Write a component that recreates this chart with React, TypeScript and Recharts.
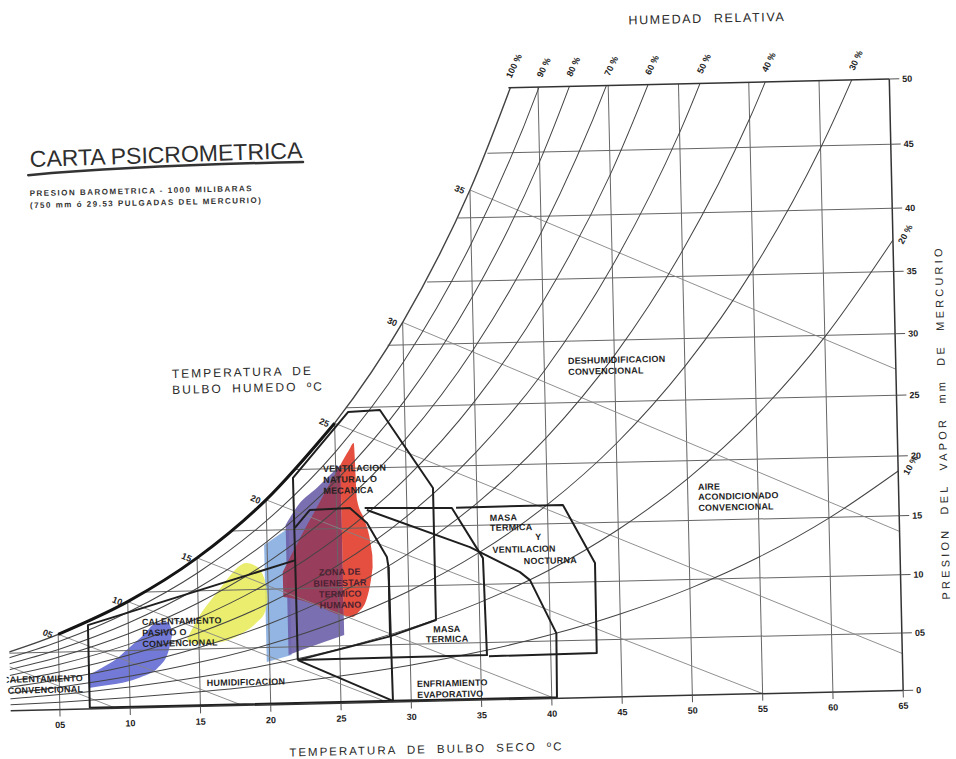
import React from "react";
import { Area, ComposedChart, Line, ReferenceDot, ReferenceLine, XAxis, YAxis } from "recharts";

// vertical axis runs linear in humidity ratio, labelled in vapour pressure (mm Hg)
const BARO_MMHG = 750;
const toW = (p: number) => (1000 * p) / (BARO_MMHG - p);
const toP = (w: number) => (BARO_MMHG * w) / (1000 + w);

const TEMPS = [0, 5, 10, 15, 20, 25, 30, 35, 40, 45, 50, 55, 60, 65];

// vapour pressure (mm Hg) along each relative humidity curve, at TEMPS
const RH_100 = [4.58, 6.54, 9.21, 12.79, 17.54, 23.76, 31.82, 42.18, 55.32];
const RH_90 = [4.12, 5.89, 8.29, 11.51, 15.79, 21.38, 28.64, 37.96, 49.79, 64.69];
const RH_80 = [3.66, 5.23, 7.37, 10.23, 14.03, 19.01, 25.46, 33.74, 44.26, 57.5];
const RH_70 = [3.21, 4.58, 6.45, 8.95, 12.28, 16.63, 22.27, 29.53, 38.72, 50.32, 64.76];
const RH_60 = [2.75, 3.92, 5.53, 7.67, 10.52, 14.26, 19.09, 25.31, 33.19, 43.13, 55.51];
const RH_50 = [2.29, 3.27, 4.61, 6.4, 8.77, 11.88, 15.91, 21.09, 27.66, 35.94, 46.26, 59.0];
const RH_40 = [1.83, 2.62, 3.68, 5.12, 7.02, 9.5, 12.73, 16.87, 22.13, 28.75, 37.0, 47.2, 59.76];
const RH_30 = [1.37, 1.96, 2.76, 3.84, 5.26, 7.13, 9.55, 12.65, 16.6, 21.56, 27.75, 35.4, 44.82, 56.25];
const RH_20 = [0.92, 1.31, 1.84, 2.56, 3.51, 4.75, 6.36, 8.44, 11.06, 14.38, 18.5, 23.6, 29.88, 37.5];
const RH_10 = [0.46, 0.65, 0.92, 1.28, 1.75, 2.38, 3.18, 4.22, 5.53, 7.19, 9.25, 11.8, 14.94, 18.75];

const RH_LEVELS = [100, 90, 80, 70, 60, 50, 40, 30, 20, 10];
const RH_SERIES = [RH_100, RH_90, RH_80, RH_70, RH_60, RH_50, RH_40, RH_30, RH_20, RH_10];
// dry bulb where the 100..30 % curves reach the 50 mm line
const RH_TOP_T = [37.9, 40.1, 42.2, 44.9, 47.8, 51.5, 56.1, 62.3];

const X_TICKS = [5, 10, 15, 20, 25, 30, 35, 40, 45, 50, 55, 60, 65];
const P_TICKS = [0, 5, 10, 15, 20, 25, 30, 35, 40, 45, 50];

// dry bulb verticals run from 0 up to saturation
const GRID_T = [5, 10, 15, 20, 25, 30, 35, 40, 45, 50, 55, 60];
const GRID_T_TOP = [6.54, 9.21, 12.79, 17.54, 23.76, 31.82, 42.18, 50, 50, 50, 50, 50];
// vapour pressure horizontals start at saturation
const GRID_P = [5, 10, 15, 20, 25, 30, 35, 40, 45];
const GRID_P_FROM = [1.2, 11.3, 17.5, 22.15, 25.85, 28.9, 31.8, 34.1, 36.3];

// wet bulb lines: saturation point -> lower end
const WB_T = [0, 5, 10, 15, 20, 25, 30, 35];
const WB_P = [4.58, 6.54, 9.21, 12.79, 17.54, 23.76, 31.82, 42.18];
const WB_END_T = [9.0, 18.0, 28.3, 40.2, 55.0, 65, 65, 65];
const WB_END_P = [0, 0, 0, 0, 0, 3.22, 13.68, 27.13];
const WB_LABELS = ["", "05", "10", "15", "20", "25", "30", "35"];

// zone outlines, [dry bulb, vapour pressure]
const VENTILACION: [number, number][] = [
  [22.0, 3.84], [21.95, 19.31], [25.97, 24.65], [28.24, 24.76], [31.89, 18.21], [31.89, 7.03], [28.6, 5.71], [22.0, 3.84],
];
const BIENESTAR: [number, number][] = [
  [22.0, 15.13], [23.1, 16.61], [25.95, 16.69], [27.14, 15.4], [28.5, 12.5], [28.6, 11.64], [28.6, 5.71],
];
const MASA_TERMICA: [number, number][] = [
  [27.0, 16.66], [33.2, 16.5], [35.33, 12.22], [35.46, 3.9], [22.0, 3.85],
];
const MASA_VENT_NOCT: [number, number][] = [
  [33.5, 16.52], [41.1, 16.55], [43.29, 11.59], [43.27, 3.86], [35.6, 3.8],
];
const ENFRIAMIENTO: [number, number][] = [
  [27.15, 16.5], [34.42, 13.18], [37.94, 10.96], [38.64, 10.26], [40.43, 5.67], [40.37, 0.1], [28.7, 0.1], [28.6, 11.64],
];
const HUMIDIFICACION: [number, number][] = [
  [22.0, 12.41], [7.13, 7.27], [7.13, 0.1], [28.7, 0.1],
];
const HUMID_BORDE: [number, number][] = [[22.0, 3.84], [28.7, 0.1]];

// shaded strategy regions, [dry bulb, lower p, upper p]
const AZUL: [number, number, number][] = [
  [7.1, 1.82, 2.96], [8.0, 1.97, 3.53], [9.0, 2.12, 4.2], [10.0, 2.35, 5.21],
  [11.0, 2.76, 6.23], [12.0, 3.42, 7.31], [12.8, 4.79, 7.38], [13.1, 6.25, 6.68],
];
const AMARILLO: [number, number, number][] = [
  [14.19, 5.62, 5.96], [15.12, 5.42, 7.91], [16.04, 5.47, 9.34], [16.9, 5.63, 10.6], [17.75, 6.04, 11.77],
  [18.46, 6.53, 12.26], [19.17, 7.21, 11.99], [19.74, 8.05, 10.95], [19.95, 9.07, 9.5],
];
const CELESTE: [number, number, number][] = [[19.79, 3.73, 13.75], [21.57, 4.3, 15.14]];
const MORADO: [number, number, number][] = [
  [21.35, 4.3, 15.39], [22.28, 4.7, 17.04], [23.7, 5.27, 18.51], [25.34, 5.92, 20.29],
];
const GRANATE: [number, number, number][] = [
  [21.07, 9.29, 11.42], [22.28, 9.01, 14.1], [23.7, 8.37, 17.01], [25.12, 7.64, 19.88], [25.34, 7.59, 20.3],
];
const ROJO: [number, number, number][] = [
  [25.34, 7.59, 20.3], [25.98, 7.45, 21.52], [26.33, 7.78, 22.09], [26.47, 7.95, 17.35],
  [26.97, 8.88, 15.66], [27.33, 10.58, 13.97], [27.47, 11.64, 12.68],
];

type Note = {
  t: number;
  p: number;
  lines: string[];
  anchor?: "start" | "middle" | "end";
  dx?: number[];
  dy?: number[];
  fill?: string;
};

const NOTES: Note[] = [
  { t: 41.69, p: 28.16, lines: ["DESHUMIDIFICACION", "CONVENCIONAL"] },
  { t: 50.73, p: 17.54, lines: ["AIRE", "ACONDICIONADO", "CONVENCIONAL"], dy: [0, 10, 21] },
  { t: 24.09, p: 19.75, lines: ["VENTILACION", "NATURAL O", "MECANICA"] },
  {
    t: 35.88, p: 15.34, lines: ["MASA", "TERMICA", "Y", "VENTILACION", "NOCTURNA"],
    dx: [0, 0, 45, 2, 33], dy: [0, 10, 20, 32, 44],
  },
  { t: 25.13, p: 11.06, lines: ["ZONA DE", "BIENESTAR", "TERMICO", "HUMANO"], anchor: "middle", fill: "#4a2232" },
  { t: 32.65, p: 5.97, lines: ["MASA", "TERMICA"], anchor: "middle", dy: [0, 10] },
  { t: 30.43, p: 1.26, lines: ["ENFRIAMIENTO", "EVAPORATIVO"] },
  { t: 10.97, p: 7.17, lines: ["CALENTAMIENTO", "PASIVO O", "CONVENCIONAL"] },
  { t: 15.49, p: 1.76, lines: ["HUMIDIFICACION"] },
  { t: 6.68, p: 2.44, lines: ["CALENTAMIENTO", "CONVENCIONAL"], anchor: "end" },
];

const W_TOP = toW(50);
const W_TICKS = P_TICKS.map(toW);

const curve = (vals: number[], from = 0) => vals.map((p, i) => ({ t: TEMPS[i + from], w: toW(p) }));
const poly = (pts: [number, number][]) => pts.map(([t, p]) => ({ t, w: toW(p) }));
const band = (rows: [number, number, number][]) => rows.map(([t, lo, hi]) => ({ t, w: [toW(lo), toW(hi)] }));

const fmtT = (v: number) => (v < 10 ? `0${v}` : `${v}`);
const fmtP = (w: number) => {
  const p = Math.round(toP(w));
  return p === 0 ? "0" : p < 10 ? `0${p}` : `${p}`;
};

const INK = "#1f1f1f";
const tickStyle = { fontSize: 9, fontWeight: "bold", fill: "#222" };

function NoteText({ cx, cy, note }: { cx: number; cy: number; note: Note }) {
  return (
    <text textAnchor={note.anchor ?? "start"} fontSize={9} fontWeight="bold" letterSpacing={0.2} fill={note.fill ?? INK}>
      {note.lines.map((s, i) => (
        <tspan key={i} x={cx + (note.dx?.[i] ?? 0)} y={cy + (note.dy?.[i] ?? i * 11)}>
          {s}
        </tspan>
      ))}
    </text>
  );
}

function SlantTag({ x, y, angle, anchor, label }: { x: number; y: number; angle: number; anchor: "start" | "end"; label: string }) {
  return (
    <text x={x} y={y} transform={`rotate(${angle} ${x} ${y})`} textAnchor={anchor} fontSize={9} fontWeight="bold" fill={INK}>
      {label}
    </text>
  );
}

function thinLine(key: string, data: { t: number; w: number }[], stroke: string, width: number, type: "linear" | "monotone" = "linear") {
  return (
    <Line
      key={key}
      data={data}
      dataKey="w"
      type={type}
      stroke={stroke}
      strokeWidth={width}
      strokeLinejoin="round"
      dot={false}
      activeDot={false}
      isAnimationActive={false}
    />
  );
}

function patch(key: string, rows: [number, number, number][], fill: string, opacity: number) {
  return (
    <Area
      key={key}
      data={band(rows)}
      dataKey="w"
      type="monotone"
      stroke="none"
      fill={fill}
      fillOpacity={opacity}
      dot={false}
      activeDot={false}
      isAnimationActive={false}
    />
  );
}

export default function App() {
  return (
    <div style={{ position: "absolute", left: 0, top: 0, width: 956, height: 759, overflow: "hidden", background: "#fff" }}>
      <div
        style={{
          position: "relative",
          width: 956,
          height: 759,
          transform: "rotate(-1.3deg)",
          fontFamily: "'Liberation Sans', Arial, sans-serif",
        }}
      >
        <ComposedChart width={956} height={759} margin={{ top: 88.5, right: 5, bottom: 29, left: 3.3 }}>
          <XAxis
            dataKey="t"
            type="number"
            domain={[1.5, 65]}
            ticks={X_TICKS}
            interval={0}
            allowDataOverflow
            height={30}
            tickSize={7}
            tickMargin={5}
            tickFormatter={fmtT}
            tick={tickStyle}
            axisLine={{ stroke: "#333", strokeWidth: 1.5 }}
            tickLine={{ stroke: "#555" }}
          />
          <YAxis
            orientation="right"
            type="number"
            domain={[0, W_TOP]}
            ticks={W_TICKS}
            interval={0}
            allowDataOverflow
            width={55}
            tickSize={10}
            tickMargin={3}
            tickFormatter={fmtP}
            tick={tickStyle}
            axisLine={{ stroke: "#333", strokeWidth: 1.5 }}
            tickLine={{ stroke: "#555" }}
          />

          {patch("celeste", CELESTE, "#86ade0", 0.9)}
          {patch("morado", MORADO, "#6b5fa8", 0.9)}
          {patch("granate", GRANATE, "#9a3a56", 0.95)}
          {patch("rojo", ROJO, "#e2402f", 0.92)}
          {patch("azul", AZUL, "#5f66d0", 0.88)}
          {patch("amarillo", AMARILLO, "#e6ea55", 0.85)}

          {GRID_T.map((t, i) => thinLine(`gt${t}`, poly([[t, 0], [t, GRID_T_TOP[i]]]), "#666", 1))}
          {GRID_P.map((p, i) => thinLine(`gp${p}`, poly([[GRID_P_FROM[i], p], [65, p]]), "#666", 1))}
          {WB_T.map((t, i) =>
            thinLine(`wb${t}`, poly([[t, WB_P[i]], [WB_END_T[i], WB_END_P[i]]]), "#858585", 0.9)
          )}
          {RH_SERIES.map((vals, i) =>
            thinLine(`rh${RH_LEVELS[i]}`, curve(vals), "#444", i === 0 ? 1.4 : 1, "monotone")
          )}
          {thinLine("sat-heavy", curve(RH_100.slice(1, 6), 1), "#151515", 3, "monotone")}

          <ReferenceLine
            segment={[{ x: RH_TOP_T[0], y: W_TOP }, { x: 65, y: W_TOP }]}
            stroke="#333"
            strokeWidth={1.5}
            ifOverflow="visible"
          />

          {[VENTILACION, BIENESTAR, MASA_TERMICA, MASA_VENT_NOCT, ENFRIAMIENTO, HUMIDIFICACION, HUMID_BORDE].map((z, i) =>
            thinLine(`zone${i}`, poly(z), INK, 2)
          )}

          {WB_T.map((t, i) =>
            WB_LABELS[i] ? (
              <ReferenceDot
                key={`wbl${t}`}
                x={t}
                y={toW(WB_P[i])}
                r={0}
                ifOverflow="visible"
                shape={(props: any) => (
                  <SlantTag x={props.cx - 7} y={props.cy + 4} angle={23} anchor="end" label={WB_LABELS[i]} />
                )}
              />
            ) : null
          )}

          {RH_TOP_T.map((t, i) => (
            <ReferenceDot
              key={`rhl${i}`}
              x={t}
              y={W_TOP}
              r={0}
              ifOverflow="visible"
              shape={(props: any) => (
                <SlantTag x={props.cx + 3} y={props.cy - 9} angle={-63} anchor="start" label={`${RH_LEVELS[i]} %`} />
              )}
            />
          ))}
          {[RH_20, RH_10].map((vals, i) => (
            <ReferenceDot
              key={`rhr${i}`}
              x={65}
              y={toW(vals[vals.length - 1])}
              r={0}
              ifOverflow="visible"
              shape={(props: any) => (
                <SlantTag x={props.cx + 10} y={props.cy + 5} angle={-60} anchor="start" label={`${RH_LEVELS[8 + i]} %`} />
              )}
            />
          ))}

          {NOTES.map((n, i) => (
            <ReferenceDot
              key={`note${i}`}
              x={n.t}
              y={toW(n.p)}
              r={0}
              ifOverflow="visible"
              shape={(props: any) => <NoteText cx={props.cx} cy={props.cy} note={n} />}
            />
          ))}
        </ComposedChart>

        <svg width={956} height={759} style={{ position: "absolute", left: 0, top: 0, pointerEvents: "none" }}>
          <text x={715} y={28} textAnchor="middle" fontSize={12.5} letterSpacing={1.6} wordSpacing={6} fill="#2a2a2a">
            HUMEDAD RELATIVA
          </text>
          <text x={35} y={157} fontSize={23} fill="#2e2e2e" transform="rotate(-0.6 35 157)">
            CARTA PSICROMETRICA
          </text>
          <path d="M 33 165 Q 139 158 308 158" stroke="#333" strokeWidth={2.5} fill="none" strokeLinecap="round" />
          <text x={34} y={186} fontSize={8} fontWeight="bold" letterSpacing={1.5} fill="#333">
            PRESION BAROMETRICA - 1000 MILIBARAS
          </text>
          <text x={34} y={198} fontSize={8} fontWeight="bold" letterSpacing={1.5} fill="#333">
            (750 mm ó 29.53 PULGADAS DEL MERCURIO)
          </text>
          <text x={172} y={371} fontSize={12} letterSpacing={2} wordSpacing={4} fill="#2a2a2a">
            TEMPERATURA DE
          </text>
          <text x={172} y={387} fontSize={12} letterSpacing={2} wordSpacing={4} fill="#2a2a2a">
            BULBO HUMEDO ºC
          </text>
          <text x={418} y={752} textAnchor="middle" fontSize={11.5} letterSpacing={2} wordSpacing={5} fill="#2a2a2a">
            TEMPERATURA DE BULBO SECO ºC
          </text>
          <text
            x={945}
            y={433}
            textAnchor="middle"
            fontSize={11}
            letterSpacing={3.2}
            wordSpacing={7}
            fill="#2a2a2a"
            transform="rotate(-90 945 433)"
          >
            PRESION DEL VAPOR mm DE MERCURIO
          </text>
        </svg>
      </div>
    </div>
  );
}
